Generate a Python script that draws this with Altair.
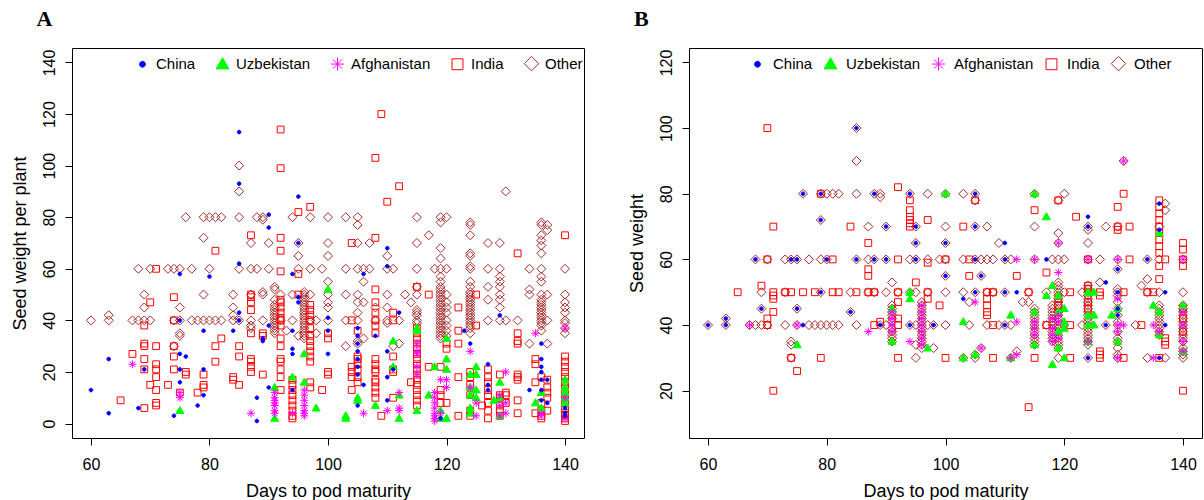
import altair as alt
import pandas as pd

# ---- categories and style ---------------------------------------------------
COUNTRIES = ["China", "Uzbekistan", "Afghanistan", "India", "Other"]
DRAW_ORDER = ["Other", "India", "Uzbekistan", "Afghanistan", "China"]
STROKES = ["#0000FF", "#00FF00", "#FF00FF", "#FF0000", "#A52A2A"]
FILLS = ["#0000FF", "#00FF00", "transparent", "transparent", "transparent"]
SHAPES = [
    "M-0.36,0A0.36,0.36,0,1,0,0.36,0A0.36,0.36,0,1,0,-0.36,0Z",
    "M0,-0.82L0.8,0.58L-0.8,0.58Z",
    "M-0.8,0L0.8,0M0,-0.8L0,0.8M-0.57,-0.57L0.57,0.57M-0.57,0.57L0.57,-0.57",
    "M-0.68,-0.68L0.68,-0.68L0.68,0.68L-0.68,0.68Z",
    "M0,-0.9L0.9,0L0,0.9L-0.9,0Z",
]

X_TICKS = [60, 80, 100, 120, 140]
A_Y_TICKS = [0, 20, 40, 60, 80, 100, 120, 140]
B_Y_TICKS = [20, 40, 60, 80, 100, 120]

# ---- panel A: (days to pod maturity, seed weight per plant) ------------------
A_OTHER = [
    (85, 100), (85, 90), (130, 90),
    (76, 80), (79, 80), (80, 80), (81, 80), (82, 80), (85, 80), (88, 80), (89, 80),
    (94, 80), (97, 80), (100, 80), (103, 80), (105, 80), (115, 80), (119, 80), (120, 80),
    (89, 79), (124, 78), (124, 77), (119, 78), (136, 78), (136, 77), (137, 77), (137, 75),
    (105, 77), (117, 73), (124, 73), (136, 73), (79, 72),
    (87, 70), (90, 70), (95, 70), (100, 70), (105, 70), (107, 70), (115, 70), (127, 70),
    (129, 70), (136, 71), (136, 69), (119, 68),
    (95, 65), (100, 65), (110, 65), (124, 66), (124, 65), (136, 66), (119, 64), (124, 61),
    (68, 60), (70, 60), (73, 60), (74, 60), (75, 60), (77, 60), (80, 60), (85, 60), (87, 60),
    (88, 60), (90, 60), (95, 60), (97, 60), (99, 60), (103, 60), (105, 60), (106, 60),
    (107, 60), (110, 60), (111, 60), (115, 60), (118, 60), (119, 60), (120, 60), (124, 60),
    (127, 60), (129, 60), (134, 60), (136, 60), (140, 60),
    (129, 57), (100, 55), (106, 55), (91, 53), (127, 53), (134, 52), (119, 57), (119, 55),
    (124, 55), (124, 53), (136, 57), (136, 55), (89, 51), (115, 53),
    (69, 50), (79, 50), (84, 50), (87, 50), (89, 50), (92, 50), (94, 50), (97, 50), (100, 50),
    (103, 50), (105, 50), (110, 50), (113, 50), (115, 50), (120, 50), (127, 48),
    (129, 50), (134, 50), (137, 50), (140, 50),
    (91, 52), (91, 48), (91, 46), (91, 45), (91, 44), (91, 43), (91, 42), (91, 41),
    (91, 39), (91, 38), (91, 37), (91, 36), (91, 35),
    (96, 51), (96, 50), (96, 49), (96, 48), (96, 47), (96, 46), (96, 45), (96, 44), (96, 43),
    (96, 42), (96, 41), (96, 39), (96, 38), (96, 37), (96, 36), (96, 35), (96, 34), (96, 33),
    (119, 53), (119, 52), (119, 51), (119, 50), (119, 49), (119, 48), (119, 47), (119, 46),
    (119, 45), (119, 44), (119, 43), (119, 42), (119, 41), (119, 39), (119, 38), (119, 37),
    (119, 36), (119, 35), (119, 34), (119, 33),
    (120, 47), (120, 45), (120, 43), (120, 38), (120, 36), (120, 34),
    (124, 51), (124, 50), (124, 49), (124, 48), (124, 47), (124, 46), (124, 45), (124, 44),
    (124, 43), (124, 42), (124, 41), (124, 39), (124, 38), (124, 37), (124, 35),
    (129, 55), (129, 53), (129, 48), (129, 45),
    (136, 50), (136, 48), (136, 47), (136, 46), (136, 45), (136, 44), (136, 43), (136, 42),
    (136, 41), (136, 39), (136, 38), (136, 36),
    (140, 47), (140, 45), (140, 43), (140, 39), (140, 37), (140, 35),
    (69, 45), (75, 45), (84, 45), (106, 47), (108, 45), (110, 45), (114, 47),
    (60, 40), (63, 40), (67, 40), (68, 40), (69, 40), (70, 40), (74, 40), (75, 40), (77, 40),
    (78, 40), (79, 40), (80, 40), (81, 40), (82, 40), (84, 40), (85, 40), (87, 40), (89, 40),
    (91, 40), (92, 40), (94, 40), (96, 40), (97, 40), (98, 40), (100, 40), (103, 40),
    (105, 40), (108, 40), (110, 40), (112, 40), (115, 40), (119, 40), (120, 40), (124, 40),
    (127, 40), (129, 40), (130, 40), (132, 40), (136, 40), (137, 40), (140, 40),
    (63, 42), (84, 42), (87, 38), (87, 37), (75, 35), (75, 34), (74, 30), (100, 47),
    (100, 45), (103, 30), (105, 47), (105, 43), (105, 32), (105, 31), (106, 33), (110, 39),
    (111, 30), (112, 31), (115, 44), (115, 43), (115, 42), (115, 39), (134, 31), (137, 31),
    (95, 34), (98, 35), (93, 36),
]

A_INDIA = [
    (92, 114), (92, 99), (109, 120), (108, 103), (112, 92), (110, 86), (97, 84), (95, 82),
    (87, 73), (92, 72), (104, 70), (108, 72), (81, 67), (92, 67), (132, 66), (140, 73),
    (71, 60), (92, 59), (95, 58), (108, 52), (115, 53), (117, 50), (74, 49), (87, 50),
    (87, 49), (92, 48), (95, 50), (70, 47), (87, 47), (87, 44), (122, 45), (108, 47),
    (108, 43), (104, 40), (108, 40), (111, 43), (111, 40), (122, 36), (122, 31), (132, 35),
    (132, 32), (132, 31), (108, 38), (108, 35),
    (69, 38), (69, 31), (69, 30), (69, 25), (69, 21), (69, 6), (70, 15), (71, 30), (71, 23),
    (71, 21), (71, 18), (71, 13), (71, 8), (71, 7), (67, 27), (65, 9), (73, 15), (74, 40),
    (74, 30), (74, 26), (74, 21), (75, 12), (76, 20), (76, 19), (78, 12), (79, 19), (79, 15),
    (79, 14), (81, 30), (81, 24), (82, 33), (84, 18), (84, 17), (85, 30), (85, 26), (85, 15),
    (87, 35), (87, 25), (87, 24), (87, 22), (87, 20), (89, 35), (89, 34), (89, 19),
    (92, 47), (92, 45), (92, 43), (92, 41), (92, 40), (92, 38), (92, 33), (92, 30), (92, 25),
    (92, 24), (92, 21), (92, 18), (92, 13),
    (94, 17), (94, 15), (94, 13), (94, 11), (94, 9), (94, 7), (94, 5), (94, 3), (94, 2),
    (97, 46), (97, 44), (97, 42), (97, 40), (97, 37), (97, 34), (97, 32), (97, 30), (97, 28),
    (97, 26), (97, 24), (97, 16), (97, 14),
    (99, 13), (100, 35), (100, 33), (100, 20), (100, 19),
    (104, 22), (104, 20), (104, 18), (104, 13),
    (105, 36), (105, 26), (105, 25), (105, 23), (105, 21), (105, 18), (105, 16),
    (108, 25), (108, 23), (108, 21), (108, 20), (108, 17), (108, 16), (108, 14), (108, 12),
    (108, 10), (109, 3),
    (111, 26), (111, 21), (111, 20), (111, 10), (114, 16),
    (115, 37), (115, 35), (115, 33), (115, 31), (115, 29), (115, 27), (115, 25), (115, 23),
    (115, 21), (115, 19), (115, 17), (115, 15), (115, 13), (115, 11), (115, 9), (115, 7),
    (117, 22), (119, 22), (119, 13), (119, 11), (119, 8), (120, 31), (120, 29), (120, 8),
    (122, 18), (122, 3),
    (124, 20), (124, 18), (124, 15), (124, 11), (124, 5), (124, 3), (125, 50), (125, 38),
    (126, 7),
    (127, 21), (127, 18), (127, 16), (127, 13), (127, 11), (127, 8), (127, 5), (127, 2),
    (129, 19), (129, 11), (129, 10), (129, 7), (129, 5), (129, 3),
    (130, 12), (130, 11), (130, 8),
    (132, 19), (132, 18), (132, 17), (132, 9), (132, 4),
    (135, 25), (135, 23), (135, 16), (135, 4),
    (136, 18), (136, 8), (136, 5), (136, 3), (136, 2),
    (137, 17), (137, 14), (137, 12), (137, 10), (137, 5),
    (140, 26), (140, 24), (140, 22), (140, 20), (140, 18), (140, 16), (140, 14), (140, 12),
    (140, 10), (140, 8), (140, 6), (140, 4), (140, 3), (140, 2), (140, 1),
]

A_UZBEKISTAN = [
    (75, 5), (91, 14), (91, 2), (94, 18), (96, 27), (96, 16), (98, 6), (100, 52), (103, 3),
    (103, 2), (105, 10), (105, 9), (108, 7), (111, 32), (111, 22), (112, 11), (112, 2),
    (115, 37), (115, 36), (115, 5), (117, 11), (118, 22), (119, 5), (119, 2), (120, 33),
    (120, 25), (120, 21), (120, 2), (124, 19), (124, 14), (124, 11), (124, 6), (124, 4),
    (125, 22), (125, 19), (125, 13), (125, 10), (128, 9), (129, 16), (129, 10), (129, 3),
    (135, 8), (136, 12), (136, 6), (140, 17), (140, 14), (140, 12), (140, 10), (140, 8),
]

A_AFGHANISTAN = [
    (67, 23), (75, 12), (75, 10), (87, 4), (91, 12), (91, 10), (91, 9), (91, 8), (91, 7),
    (91, 5), (91, 4), (94, 4), (96, 13), (96, 11), (96, 9), (96, 7), (96, 5), (96, 4),
    (96, 3), (106, 4), (110, 5), (112, 12), (112, 6), (112, 5), (115, 31), (115, 28),
    (115, 27), (115, 22), (115, 19), (118, 12), (118, 10), (118, 8), (118, 6), (118, 4),
    (118, 3), (118, 2), (118, 1), (119, 17), (119, 4), (120, 17), (120, 14), (124, 28),
    (124, 14), (125, 8), (125, 3), (129, 11), (129, 7), (129, 3), (130, 20), (130, 8),
    (130, 4), (135, 35), (136, 4), (136, 3), (140, 37), (140, 10), (140, 2),
]

A_CHINA = [
    (85, 113), (85, 93), (95, 88), (90, 81), (90, 76), (95, 70), (75, 58), (80, 57), (85, 62),
    (94, 58), (60, 13), (63, 25), (63, 4), (68, 6), (69, 21), (74, 3), (75, 40), (75, 27),
    (75, 21), (75, 16), (76, 26), (78, 7), (79, 36), (79, 21), (79, 11), (84, 36), (85, 43),
    (85, 40), (88, 10), (88, 1), (89, 33), (89, 32), (90, 38), (90, 14), (94, 36), (94, 29),
    (94, 27), (94, 13), (95, 49), (95, 47), (100, 41), (100, 36), (100, 27), (105, 37),
    (105, 34), (105, 31), (105, 28), (105, 25), (105, 22), (105, 19), (105, 7), (106, 15),
    (108, 34), (110, 68), (110, 61), (106, 58), (110, 28), (110, 18), (110, 9), (111, 21),
    (112, 43), (119, 2), (123, 36), (124, 31), (127, 23), (127, 15), (127, 13), (129, 42),
    (134, 13), (136, 31), (136, 25), (136, 22), (136, 20), (136, 17), (136, 13), (136, 9),
    (137, 17), (137, 8), (140, 6), (140, 4), (140, 3),
]

# ---- panel B: (days to pod maturity, seed weight) ---------------------------
B_OTHER = [
    (85, 100), (85, 90), (130, 90),
    (76, 80), (79, 80), (80, 80), (81, 80), (82, 80), (85, 80), (88, 80), (89, 80), (94, 80),
    (97, 80), (100, 80), (103, 80), (105, 80), (115, 80), (120, 80), (89, 79), (105, 78),
    (119, 78), (137, 77), (137, 75), (79, 72),
    (87, 70), (90, 70), (95, 70), (100, 70), (105, 70), (107, 70), (115, 70), (124, 70),
    (127, 70), (129, 70), (136, 70), (119, 68), (124, 69),
    (95, 65), (100, 65), (109, 65), (119, 65), (124, 65),
    (68, 60), (70, 60), (73, 60), (74, 60), (75, 60), (77, 60), (79, 60), (80, 60), (85, 60),
    (87, 60), (88, 60), (90, 60), (94, 60), (95, 60), (97, 60), (99, 60), (100, 60),
    (103, 60), (105, 60), (106, 60), (107, 60), (108, 60), (110, 60), (111, 60), (115, 60),
    (118, 60), (119, 60), (120, 60), (124, 60), (126, 60), (129, 60), (134, 60), (136, 60),
    (140, 60),
    (129, 57), (100, 55), (106, 55), (134, 54), (133, 52), (126, 53), (91, 53),
    (69, 50), (73, 50), (79, 50), (84, 50), (87, 50), (88, 50), (90, 50), (92, 50), (94, 50),
    (95, 50), (97, 50), (100, 50), (103, 50), (105, 50), (107, 50), (108, 50), (110, 50),
    (114, 50), (117, 50), (120, 50), (123, 50), (134, 50), (114, 47), (104, 47), (113, 47),
    (69, 45), (75, 45), (84, 44), (63, 42),
    (60, 40), (63, 40), (67, 40), (68, 40), (69, 40), (70, 40), (73, 40), (75, 40), (77, 40),
    (78, 40), (79, 40), (80, 40), (81, 40), (82, 40), (85, 40), (89, 40), (90, 40), (94, 40),
    (95, 40), (97, 40), (98, 40), (100, 40), (104, 40), (107, 40), (109, 40), (110, 40),
    (111, 40), (117, 40), (120, 40), (123, 40), (127, 40), (132, 40),
    (91, 46), (91, 45), (91, 44), (91, 43), (91, 42), (91, 41), (91, 39), (91, 38), (91, 37),
    (91, 36), (91, 35),
    (96, 47), (96, 46), (96, 45), (96, 44), (96, 43), (96, 42), (96, 41), (96, 40), (96, 39),
    (96, 38), (96, 37), (96, 36), (96, 35), (96, 34), (96, 33),
    (115, 45), (115, 44), (115, 43), (115, 42), (115, 41), (115, 40), (115, 39), (115, 38),
    (115, 37), (115, 36), (115, 35), (115, 34),
    (118, 46), (118, 45), (118, 44), (118, 43), (118, 42), (118, 41), (118, 40), (118, 39),
    (118, 38), (118, 37), (118, 36), (118, 35),
    (119, 53), (119, 52), (119, 51), (119, 50), (119, 49), (119, 48), (119, 47), (119, 46),
    (119, 45), (119, 44), (119, 43), (119, 42), (119, 41), (119, 40), (119, 39), (119, 38),
    (119, 37), (119, 36), (119, 35), (119, 34), (119, 33),
    (124, 52), (124, 51), (124, 50), (124, 49), (124, 48), (124, 47), (124, 46), (124, 45),
    (124, 44), (124, 43), (124, 42), (124, 41), (124, 40), (124, 39), (124, 38), (124, 37),
    (124, 36), (124, 35), (124, 34),
    (129, 51), (129, 50), (129, 49), (129, 47), (129, 45), (129, 43), (129, 41), (129, 40),
    (129, 38), (129, 36), (129, 35), (129, 33), (129, 31), (129, 30),
    (136, 50), (136, 46), (136, 45), (136, 44), (136, 43), (136, 42), (136, 41), (136, 40),
    (136, 39), (136, 38), (136, 37),
    (140, 50), (140, 46), (140, 45), (140, 44), (140, 43), (140, 42), (140, 41), (140, 40),
    (140, 39), (140, 38), (140, 37), (140, 36), (140, 35), (140, 33), (140, 32), (140, 31),
    (140, 30),
    (74, 35), (74, 34), (95, 34), (98, 33), (106, 33), (112, 32),
    (74, 30), (95, 30), (103, 30), (105, 30), (111, 30), (119, 30), (124, 30), (134, 30),
    (137, 30), (105, 31),
]

B_INDIA = [
    (70, 100), (92, 82), (94, 78), (94, 75), (94, 73), (94, 72), (94, 71), (94, 70), (97, 72),
    (71, 70), (84, 70), (87, 65), (79, 80), (87, 57), (87, 55), (97, 59), (69, 52), (95, 53),
    (70, 60), (81, 60), (92, 60), (65, 50), (71, 50), (71, 49), (71, 48), (73, 50), (74, 50),
    (76, 50), (78, 50), (81, 50), (82, 50), (85, 50), (87, 50), (88, 50), (92, 50), (97, 50),
    (92, 47), (97, 48), (99, 46), (71, 44), (70, 42), (70, 40), (89, 41), (92, 42), (92, 40),
    (74, 30), (79, 30), (92, 30), (100, 30), (75, 26), (71, 20), (88, 40),
    (130, 80), (105, 78), (119, 78), (115, 75), (129, 76), (122, 73), (103, 70), (129, 70),
    (129, 69), (131, 70), (136, 78), (136, 76), (136, 74), (136, 72), (136, 70), (136, 68),
    (136, 66), (136, 64), (136, 62), (136, 58), (140, 65), (140, 63), (140, 60), (140, 58),
    (100, 60), (104, 60), (124, 60), (131, 60), (137, 60), (104, 55), (112, 55), (117, 56),
    (136, 54), (107, 50), (108, 50), (114, 50), (121, 50), (126, 50), (130, 50), (134, 50),
    (135, 50), (124, 52), (124, 51), (126, 49),
    (107, 48), (107, 46), (107, 44), (107, 43), (108, 40), (117, 40), (121, 40), (133, 40),
    (108, 30), (115, 30), (121, 30), (126, 30), (130, 30), (136, 30), (140, 20), (114, 15),
    (137, 36), (137, 35), (137, 34), (140, 45), (140, 42), (140, 38), (124, 47), (124, 45),
    (126, 31), (126, 32), (119, 48), (119, 46), (119, 44),
]

B_UZBEKISTAN = [
    (100, 80), (115, 80), (117, 73), (136, 68), (94, 48), (94, 50), (91, 45), (91, 35),
    (75, 34), (97, 33), (124, 50), (125, 50), (117, 49), (118, 52), (119, 49), (119, 44),
    (119, 38), (119, 33), (118, 28), (115, 44), (115, 34), (120, 45), (120, 41), (120, 39),
    (124, 43), (124, 40), (124, 35), (125, 43), (125, 40), (128, 43), (129, 45), (129, 35),
    (135, 46), (136, 44), (136, 37), (140, 46), (140, 32), (103, 41), (103, 30), (105, 31),
    (111, 43), (111, 30), (120, 30),
]

B_AFGHANISTAN = [
    (130, 90), (67, 40), (75, 40), (87, 38), (94, 35), (91, 44), (91, 42), (91, 40),
    (91, 38), (96, 46), (96, 44), (96, 42), (96, 40), (96, 38), (96, 36), (96, 34),
    (105, 47), (106, 33), (112, 31), (112, 41), (112, 60), (115, 60), (115, 41), (115, 39),
    (115, 37), (119, 65), (119, 56), (119, 43), (119, 41), (119, 36), (118, 42), (118, 39),
    (118, 37), (118, 35), (124, 60), (124, 35), (129, 60), (129, 48), (129, 40), (129, 38),
    (129, 30), (130, 40), (135, 40), (135, 30), (136, 38), (140, 60), (140, 44), (140, 40),
    (140, 35), (140, 32), (111, 30),
]

B_CHINA = [
    (85, 100), (76, 80), (79, 80), (88, 80), (94, 80), (79, 72), (90, 70), (95, 70), (95, 65),
    (100, 65), (68, 60), (74, 60), (75, 60), (80, 60), (85, 60), (88, 60), (90, 60), (95, 60),
    (100, 55), (79, 50), (69, 45), (75, 45), (84, 44), (63, 42), (60, 40), (63, 40), (76, 40),
    (89, 40), (94, 40), (98, 40), (105, 80), (105, 70), (124, 73), (124, 70), (136, 77),
    (136, 69), (110, 65), (105, 60), (110, 60), (117, 60), (134, 60), (129, 57), (106, 55),
    (127, 53), (103, 48), (105, 50), (110, 50), (112, 50), (129, 50), (137, 50), (110, 40),
    (127, 40), (137, 40), (124, 30), (136, 30), (129, 45), (129, 43),
]


def build_frame(series):
    rows = []
    for name in DRAW_ORDER:
        for days, weight in series[name]:
            rows.append({"country": name, "days": days, "weight": weight})
    return pd.DataFrame(rows)


def panel(df, letter, y_title, y_domain, y_ticks, width, letter_dx, legend_x, col_pad, lab_off):
    legend = alt.Legend(
        title=None, orient="none", legendX=legend_x, legendY=7, direction="horizontal",
        columns=5, labelFont="Liberation Sans", labelFontSize=15, labelColor="black",
        symbolSize=256, symbolStrokeWidth=1, columnPadding=col_pad, labelOffset=lab_off,
        padding=0, rowPadding=0, symbolOpacity=1,
    )
    return (
        alt.Chart(df)
        .mark_point(size=100, strokeWidth=1, opacity=1)
        .encode(
            x=alt.X("days:Q", title="Days to pod maturity",
                    scale=alt.Scale(domain=[56.8, 143.2], nice=False, zero=False),
                    axis=alt.Axis(values=X_TICKS)),
            y=alt.Y("weight:Q", title=y_title,
                    scale=alt.Scale(domain=y_domain, nice=False, zero=False),
                    axis=alt.Axis(values=y_ticks, labelAngle=270, labelAlign="center",
                                  labelBaseline="bottom")),
            shape=alt.Shape("country:N", scale=alt.Scale(domain=COUNTRIES, range=SHAPES),
                            legend=legend),
            fill=alt.Fill("country:N", scale=alt.Scale(domain=COUNTRIES, range=FILLS),
                          legend=legend),
            stroke=alt.Stroke("country:N", scale=alt.Scale(domain=COUNTRIES, range=STROKES),
                              legend=legend),
        )
        .properties(
            width=width, height=390,
            title=alt.TitleParams(letter, anchor="start", frame="group", dx=letter_dx,
                                  font="Liberation Serif", fontSize=22, fontWeight="bold",
                                  baseline="alphabetic", offset=0, color="black"),
        )
    )


df_a = build_frame({"Other": A_OTHER, "India": A_INDIA, "Uzbekistan": A_UZBEKISTAN,
                    "Afghanistan": A_AFGHANISTAN, "China": A_CHINA})
df_b = build_frame({"Other": B_OTHER, "India": B_INDIA, "Uzbekistan": B_UZBEKISTAN,
                    "Afghanistan": B_AFGHANISTAN, "China": B_CHINA})

chart_a = panel(df_a, "A", "Seed weight per plant", [-5.6, 145.6], A_Y_TICKS, 512,
                -35.5, 62, 18, 5)
chart_b = panel(df_b, "B", "Seed weight", [5.6, 124.4], B_Y_TICKS, 513,
                -55, 60, 9, 7)

chart = (
    alt.hconcat(chart_a, chart_b, spacing=42)
    .resolve_scale(shape="independent", fill="independent", stroke="independent")
    .resolve_legend(shape="independent", fill="independent", stroke="independent")
    .properties(padding={"left": 10, "top": 7, "right": 0, "bottom": 0}, background="white")
    .configure_view(stroke="black", strokeWidth=1)
    .configure_axis(
        labelFont="Liberation Sans", titleFont="Liberation Sans", labelFontSize=16,
        titleFontSize=18, titleFontWeight="normal", labelColor="black", titleColor="black",
        tickColor="black", tickSize=7, grid=False, domain=False, labelPadding=8,
        titlePadding=12,
    )
    .configure_axisX(labelPadding=11, titlePadding=10)
)

chart.save("out.html", embed_options={"renderer": "svg", "actions": False})
